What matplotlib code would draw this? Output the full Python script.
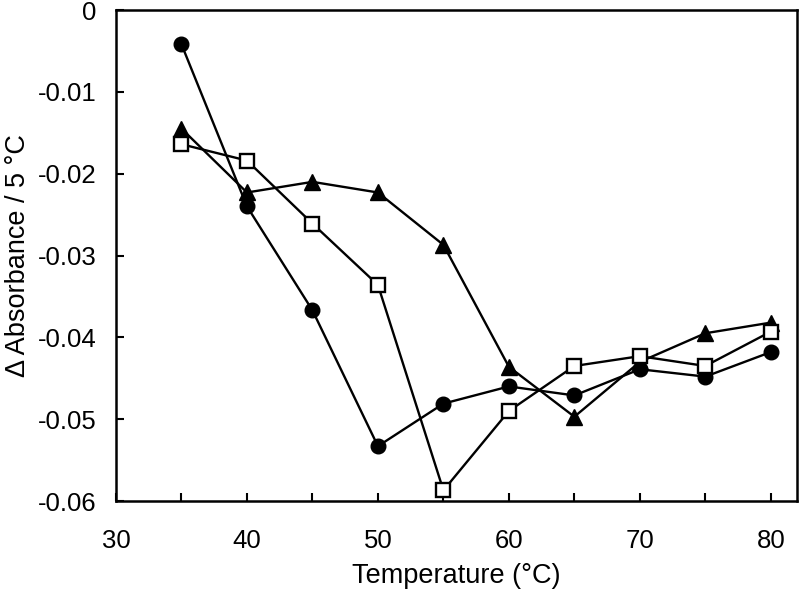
import matplotlib
matplotlib.use("Agg")
import matplotlib.pyplot as plt

plt.rcParams['font.family'] = ['Liberation Sans', 'DejaVu Sans']

# data
temps = [35, 40, 45, 50, 55, 60, 65, 70, 75, 80]
circles = [-0.0042, -0.0240, -0.0367, -0.0533, -0.0481, -0.0460, -0.0471, -0.0439, -0.0448, -0.0418]
squares = [-0.0164, -0.0184, -0.0261, -0.0336, -0.0587, -0.0490, -0.0435, -0.0423, -0.0435, -0.0393]
triangles = [-0.0145, -0.0223, -0.0210, -0.0223, -0.0287, -0.0436, -0.0497, -0.0430, -0.0395, -0.0382]

fig = plt.figure(figsize=(7.99, 5.92), dpi=100)
ax = fig.add_axes([0.1452, 0.1537, 0.8523, 0.8294])

ax.plot(temps, circles, 'k-', marker='o', markersize=10.5, linewidth=1.7)
ax.plot(temps, triangles, 'k-', marker='^', markersize=11.5, linewidth=1.7)
ax.plot(temps, squares, 'k-', marker='s', markersize=10, linewidth=1.7,
        markerfacecolor='white', markeredgecolor='black', markeredgewidth=1.7)

ax.set_xlim(30, 82)
ax.set_ylim(-0.06, 0)
ax.set_xticks([30, 35, 40, 45, 50, 55, 60, 65, 70, 75, 80])
ax.set_xticklabels(['30', '', '40', '', '50', '', '60', '', '70', '', '80'])
ax.set_yticks([-0.06, -0.05, -0.04, -0.03, -0.02, -0.01, 0])
ax.set_yticklabels(['-0.06', '-0.05', '-0.04', '-0.03', '-0.02', '-0.01', '0'])

ax.tick_params(direction='in', length=6, width=1.5, labelsize=18.5)
ax.tick_params(axis='x', pad=20)
ax.tick_params(axis='y', pad=14)
for s in ax.spines.values():
    s.set_linewidth(1.8)

ax.set_xlabel('Temperature (°C)', fontsize=19.5, labelpad=7)
ax.set_ylabel('Δ Absorbance / 5 °C', fontsize=19.5, labelpad=5)

fig.savefig('out.png', dpi=100)
